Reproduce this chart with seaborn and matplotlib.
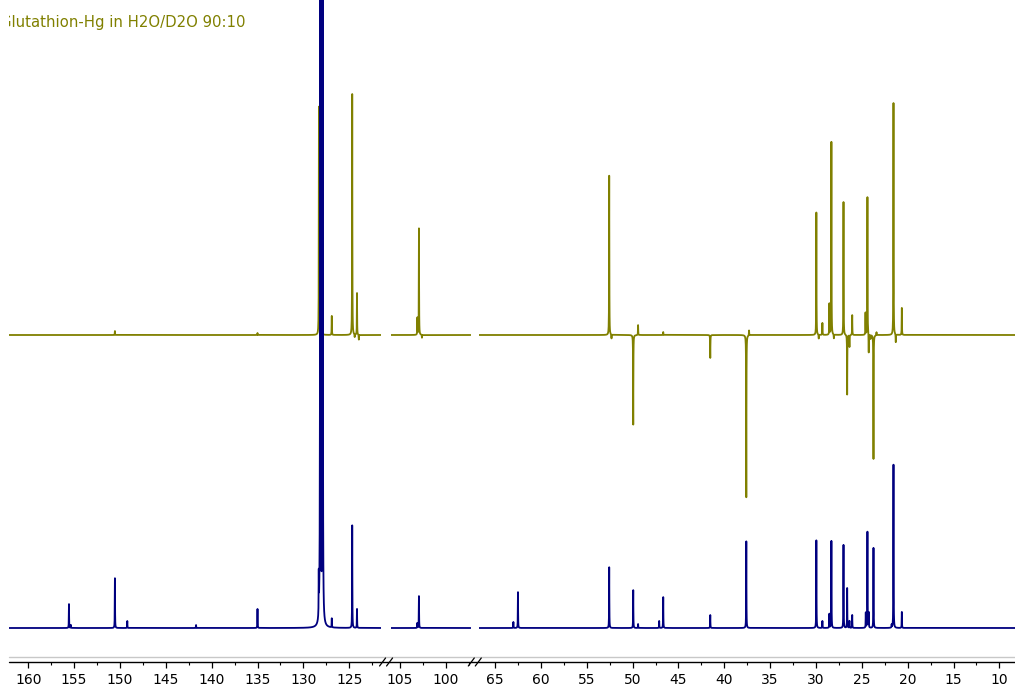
import numpy as np
import pandas as pd
import matplotlib
matplotlib.use("Agg")
import matplotlib.pyplot as plt
from matplotlib.lines import Line2D
import seaborn as sns

# ---- spectrum data: chemical shift (ppm) and peak intensity ----
c13_ppm = [155.56, 155.35, 150.55, 149.2, 141.7, 135.0,
           128.32, 128.15, 127.9, 126.9, 124.67, 124.15,
           103.1, 102.93,
           63.0, 62.5, 52.55, 49.93, 49.4, 47.1, 46.66, 41.53, 37.6,
           29.96, 29.3, 28.54, 28.32, 27.0, 26.6, 26.35, 26.05,
           24.57, 24.39, 24.25, 23.73, 21.75, 21.55, 20.64]
c13_int = [24, 3, 50, 7, 3, 19,
           40, 2200, 1800, 9, 103, 19,
           5, 32,
           6, 36, 61, 38, 4, 7, 31, 13, 87,
           88, 7, 14, 87, 83, 40, 7, 13,
           15, 96, 15, 80, 3, 164, 16]

dept_ppm = [150.55, 135.0,
            128.3, 128.05, 126.9, 124.67, 124.4, 124.15, 123.95,
            103.1, 102.93, 102.6,
            52.55, 52.3, 49.93, 49.4, 46.66, 41.53, 37.6, 37.3,
            29.96, 29.7, 29.3, 28.54, 28.32, 28.05, 27.0, 26.6, 26.35, 26.05,
            24.6, 24.39, 24.25, 24.05, 23.73, 23.4, 21.55, 21.3, 20.64]
dept_int = [4, 2,
            229, 112, 19, 242, -3, 42, -5,
            17, 107, -3,
            160, -4, -90, 10, 3, -23, -163, 5,
            123, -4, 12, 31, 193, -4, 133, -60, -12, 20,
            22, 138, -19, -4, -124, 3, 233, -8, 27]

title_text = "Glutathion-Hg in H2O/D2O 90:10"

# ppm windows of the three axis segments (high -> low)
windows = [(162.1, 121.5), (106.0, 97.3), (66.75, 8.25)]
tick_labels = [[160, 155, 150, 145, 140, 135, 130, 125],
               [105, 100],
               [65, 60, 55, 50, 45, 40, 35, 30, 25, 20, 15, 10]]

OLIVE = "#808000"
NAVY = "#00007f"

sns.set_style("white")
plt.rcParams["font.family"] = ["DejaVu Sans"]

W, H = 1015, 690
fig = plt.figure(figsize=(W / 100, H / 100), dpi=100)

px_per_ppm = 9.17
lefts_px = [9.0, 390.8, 479.0]
bottom_px = 662.0
base_c13 = 34.0     # vertical offset of the 13C trace
base_dept = 327.0   # vertical offset of the DEPT trace


def lorentz_sum(grid, centers, heights, hw=0.015):
    c = np.asarray(centers)[None, :]
    h = np.asarray(heights, dtype=float)[None, :]
    return (h * hw ** 2 / ((grid[:, None] - c) ** 2 + hw ** 2)).sum(axis=1)


axes = []
for (hi, lo), left_px, labels in zip(windows, lefts_px, tick_labels):
    width_px = (hi - lo) * px_per_ppm
    ax = fig.add_axes([left_px / W, 1 - bottom_px / H,
                       width_px / W, bottom_px / H])
    grid = np.arange(lo, hi, 0.003)
    df = pd.DataFrame({
        "ppm": np.concatenate([grid, grid]),
        "value": np.concatenate([
            base_dept + lorentz_sum(grid, dept_ppm, dept_int),
            base_c13 + lorentz_sum(grid, c13_ppm, c13_int)]),
        "trace": ["dept"] * len(grid) + ["c13"] * len(grid),
    })
    sns.lineplot(data=df, x="ppm", y="value", hue="trace",
                 palette={"dept": OLIVE, "c13": NAVY},
                 estimator=None, sort=False, legend=False,
                 linewidth=1.3, ax=ax)
    ax.set_xlim(hi, lo)
    ax.set_ylim(0, bottom_px)
    ax.set_xlabel("")
    ax.set_ylabel("")
    ax.set_yticks([])
    ax.set_xticks(labels)
    ax.set_xticklabels([str(v) for v in labels])
    minors = np.arange(np.ceil(lo / 2.5) * 2.5, hi, 2.5)
    ax.set_xticks([m for m in minors if m % 5 != 0], minor=True)
    ax.tick_params(axis="x", which="major", direction="out", length=4,
                   width=0.9, color="black", labelsize=10, pad=4,
                   labelcolor="black", bottom=True)
    ax.tick_params(axis="x", which="minor", direction="out", length=2,
                   width=0.8, color="black", bottom=True)
    for s in ax.spines.values():
        s.set_visible(False)
    ax.patch.set_alpha(0)
    axes.append(ax)

# title in the first panel, clipped at its left edge
axes[0].text(windows[0][0] + 8.5 / px_per_ppm, 640, title_text,
             color=OLIVE, fontsize=10.7, va="center", ha="left",
             clip_on=True)

# light frame line and black axis line across the full width
yf = 1 - 657 / H
fig.add_artist(Line2D([9 / W, 1], [yf, yf], color="#c8c8c8", lw=1.0))
ya = 1 - bottom_px / H
fig.add_artist(Line2D([9 / W, 1], [ya, ya], color="black", lw=1.0))

# axis break marks
for a, b in zip(axes[:-1], axes[1:]):
    xm = (a.get_position().x1 + b.get_position().x0) / 2 * W
    for dx in (-3.5, 3.5):
        fig.add_artist(Line2D([(xm + dx - 3) / W, (xm + dx + 3) / W],
                              [1 - 666 / H, 1 - 658 / H],
                              color="black", lw=0.9))

fig.savefig("out.png", dpi=100)
